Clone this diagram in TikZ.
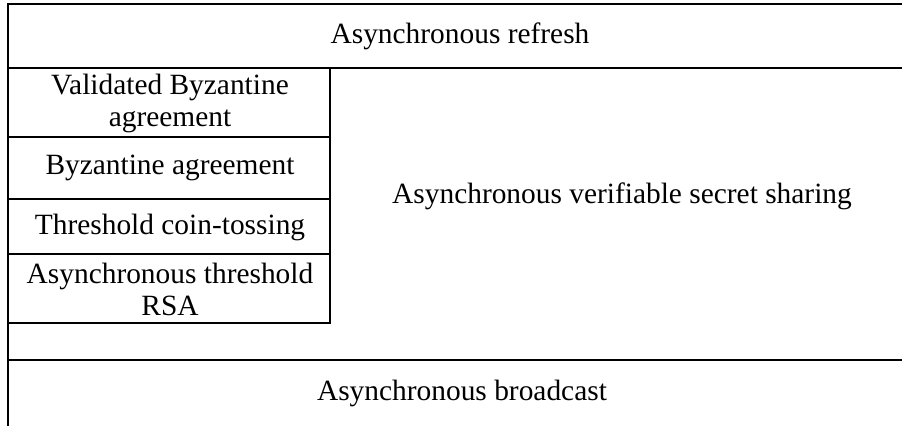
\documentclass[tikz,border=0pt]{standalone}
\usepackage{fontspec}
\setmainfont{Liberation Serif}
\begin{document}
\begin{tikzpicture}[x=1pt,y=-1pt,
  rule/.style={line width=2.8pt},
  label/.style={font=\fontsize{29.4}{32}\selectfont, align=center, inner sep=0pt}]
\useasboundingbox (0,0) rectangle (902,426);
% frame lines
\draw[rule] (8,426) -- (8,4) -- (902,4);
\draw[rule] (8,68) -- (902,68);
\draw[rule] (8,360) -- (902,360);
\draw[rule] (330,68) -- (330,323) -- (8,323);
\draw[rule] (8,137) -- (330,137);
\draw[rule] (8,199) -- (330,199);
\draw[rule] (8,254) -- (330,254);
% texts
\node[label] (refresh) at (460,36) {Asynchronous refresh};
\node[label] (vba) at (170,103) {Validated Byzantine\\agreement};
\node[label] (ba) at (170,168) {Byzantine agreement};
\node[label] (coin) at (170,227) {Threshold coin-tossing};
\node[label] (rsa) at (170,289) {Asynchronous threshold\\RSA};
\node[label] (avss) at (622,196) {Asynchronous verifiable secret sharing};
\node[label] (bcast) at (462,393) {Asynchronous broadcast};
\end{tikzpicture}
\end{document}
